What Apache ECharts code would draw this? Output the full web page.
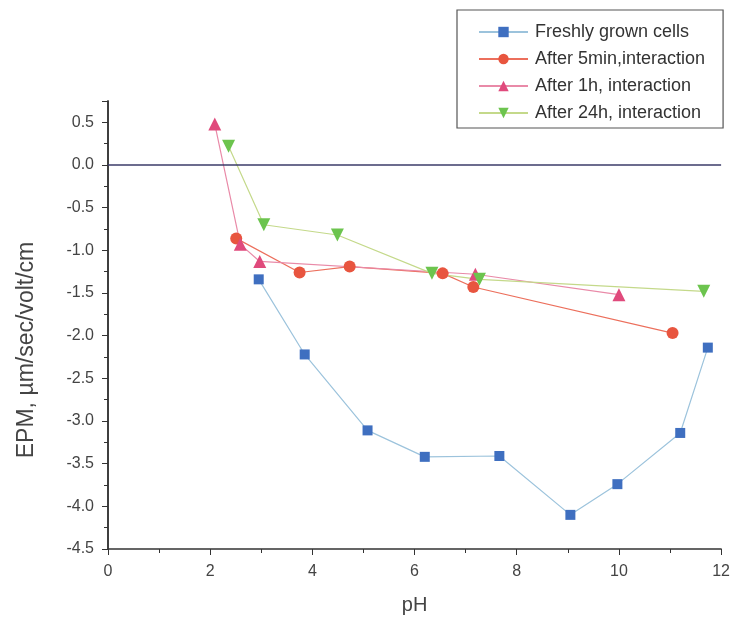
<!DOCTYPE html>
<html>
<head>
<meta charset="utf-8">
<script src="https://cdn.jsdelivr.net/npm/echarts@6/dist/echarts.min.js"></script>
<style>
    html, body { margin: 0; padding: 0; background: #fff; }
    #chart { width: 733px; height: 630px; }
</style>
</head>
<body>
<div id="chart"></div>
<script>
// data
var seriesNames = ['Freshly grown cells', 'After 5min,interaction', 'After 1h, interaction', 'After 24h, interaction'];

var phFresh = [2.95, 3.85, 5.08, 6.2, 7.66, 9.05, 9.97, 11.2, 11.74];
var epmFresh = [-1.34, -2.22, -3.11, -3.42, -3.41, -4.10, -3.74, -3.14, -2.14];

var ph5min = [2.51, 3.75, 4.73, 6.55, 7.15, 11.05];
var epm5min = [-0.86, -1.26, -1.19, -1.27, -1.43, -1.97];

var ph1h = [2.09, 2.59, 2.97, 7.19, 10.0];
var epm1h = [0.48, -0.93, -1.13, -1.28, -1.52];

var ph24h = [2.36, 3.05, 4.49, 6.34, 7.27, 11.66];
var epm24h = [0.22, -0.70, -0.82, -1.27, -1.34, -1.48];

function zip(xs, ys) {
    var out = [];
    for (var i = 0; i < xs.length; i++) {
        out.push([xs[i], ys[i]]);
    }
    return out;
}

var dom = document.getElementById('chart');
var myChart = echarts.init(dom);
var textFont = 'Liberation Sans';

option = {
    animation: false,
    grid: {
        left: 108,
        right: 11,
        top: 101,
        bottom: 81
    },
    legend: {
        orient: 'vertical',
        left: 457,
        top: 10,
        padding: [13, 18, 6, 21],
        itemWidth: 49,
        itemHeight: 13,
        itemGap: 9,
        borderColor: '#555',
        borderWidth: 1.2,
        backgroundColor: '#fff',
        textStyle: {
            fontFamily: textFont,
            fontSize: 18,
            color: '#333',
            padding: [0, 0, 0, 2]
        },
        data: seriesNames
    },
    xAxis: {
        type: 'value',
        min: 0,
        max: 12,
        interval: 2,
        name: 'pH',
        nameLocation: 'middle',
        nameGap: 46,
        nameTextStyle: { fontFamily: textFont, fontSize: 20, color: '#444' },
        axisLine: { onZero: false, lineStyle: { color: '#333', width: 1.5 } },
        axisTick: { length: 6, lineStyle: { color: '#333' } },
        minorTick: { show: true, splitNumber: 2, length: 4, lineStyle: { color: '#333' } },
        splitLine: { show: false },
        axisLabel: { fontFamily: textFont, fontSize: 16, color: '#444', margin: 15 }
    },
    yAxis: [
        {
            type: 'value',
            min: -4.5,
            max: 0.75,
            interval: 0.5,
            name: 'EPM, \u00b5m/sec/volt/cm',
            nameLocation: 'middle',
            nameGap: 70,
            nameTextStyle: {
                fontFamily: textFont,
                fontSize: 23,
                color: '#444',
                padding: [0, 50, 0, 0]
            },
            axisLine: { onZero: false, lineStyle: { color: '#333', width: 1.5 } },
            axisTick: { length: 6, lineStyle: { color: '#333' } },
            minorTick: { show: true, splitNumber: 2, length: 4, lineStyle: { color: '#333' } },
            splitLine: { show: false },
            axisLabel: {
                fontFamily: textFont,
                fontSize: 16,
                color: '#444',
                margin: 14,
                formatter: function (v) {
                    return v > 0.6 ? '' : v.toFixed(1);
                }
            }
        },
        {
            type: 'value',
            position: 'right',
            min: -4.5,
            max: 0.75,
            axisLine: { show: true, lineStyle: { color: '#333', width: 1.5 } },
            axisTick: { show: false },
            axisLabel: { show: false },
            splitLine: { show: false }
        }
    ],
    series: [
        {
            name: seriesNames[0],
            type: 'line',
            data: zip(phFresh, epmFresh),
            symbol: 'rect',
            symbolSize: 10,
            itemStyle: { color: '#3f6fc0' },
            lineStyle: { color: '#9cc3dc', width: 1.2 },
            markLine: {
                silent: true,
                symbol: ['none', 'none'],
                label: { show: false },
                lineStyle: { color: '#3b3b68', width: 1.6, type: 'solid' },
                data: [{ yAxis: 0 }]
            }
        },
        {
            name: seriesNames[1],
            type: 'line',
            data: zip(ph5min, epm5min),
            symbol: 'circle',
            symbolSize: 12,
            itemStyle: { color: '#e8553f' },
            lineStyle: { color: '#ec6f5c', width: 1.2 }
        },
        {
            name: seriesNames[2],
            type: 'line',
            data: zip(ph1h, epm1h),
            symbol: 'triangle',
            symbolSize: 13,
            itemStyle: { color: '#e04a7c' },
            lineStyle: { color: '#e98aa8', width: 1.2 }
        },
        {
            name: seriesNames[3],
            type: 'line',
            data: zip(ph24h, epm24h),
            symbol: 'triangle',
            symbolRotate: 180,
            symbolSize: 13,
            itemStyle: { color: '#6cc44e' },
            lineStyle: { color: '#c4d98a', width: 1.2 }
        }
    ]
};

if (option && typeof option === "object") {
    myChart.setOption(option, true);
}
</script>
</body>
</html>
